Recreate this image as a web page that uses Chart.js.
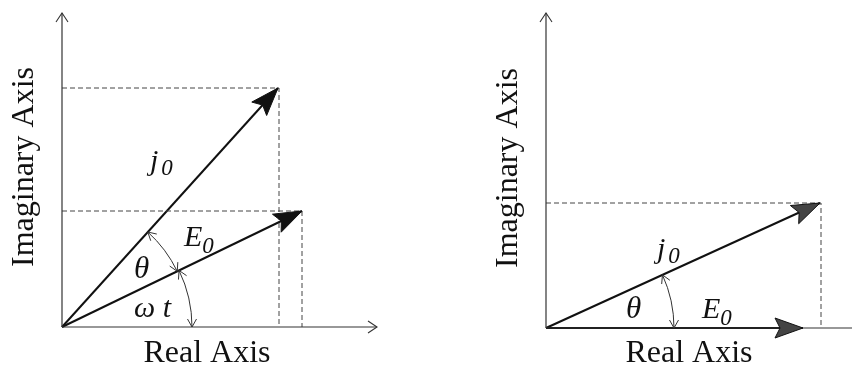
<!DOCTYPE html>
<html><head><meta charset="utf-8">
<script src="https://cdn.jsdelivr.net/npm/chart.js@4.4.0/dist/chart.umd.min.js"></script>
<style>
html,body{margin:0;padding:0;background:#fff;}
#wrap{position:relative;width:852px;height:371px;overflow:hidden;}
.panel{position:absolute;top:0;width:426px;height:371px;}
</style></head><body>
<div id="wrap">
<div class="panel" style="left:0"><canvas id="c1" width="426" height="371"></canvas></div>
<div class="panel" style="left:426px"><canvas id="c2" width="426" height="371"></canvas></div>
</div>
<script>
// ---- data (phasor components, arbitrary units) ----
const axisTitles = ['Real Axis', 'Imaginary Axis'];
// left panel
const leftJ0 = [2.16, 2.39];
const leftE0 = [2.40, 1.16];
const leftAxisEnd = [3.15, 3.14];        // real-axis end, imaginary-axis end
// right panel
const rightJ0 = [2.74, 1.25];
const rightE0 = [2.57, 0.00];
const rightAxisEnd = [3.06, 3.15];

// ---- view windows (layout) ----
const leftView  = {xmin:-0.62, xmax:3.64, ymin:-0.44, ymax:3.27};
const rightView = {xmin:-1.20, xmax:3.06, ymin:-0.43, ymax:3.28};

Chart.defaults.animation = false;

function seg(a, b){ return [{x:a[0], y:a[1]}, {x:b[0], y:b[1]}]; }
function poly(pts){ return pts.map(p => ({x:p[0], y:p[1]})); }

function lineDs(data, color, width, dash){
  return {data, showLine:true, borderColor:color, borderWidth:width,
          borderDash:dash||[], pointRadius:0, fill:false, tension:0};
}

function makeChart(id, view, ds, deco){
  const plugin = {
    id:'deco'+id,
    afterDatasetsDraw(chart){
      const ctx = chart.ctx, xs = chart.scales.x, ys = chart.scales.y;
      const P = (x,y) => [xs.getPixelForValue(x), ys.getPixelForValue(y)];
      const unit = xs.getPixelForValue(1) - xs.getPixelForValue(0);
      ctx.save();
      // axis arrowheads (open chevrons)
      (deco.axisArrows||[]).forEach(a => {
        const [ox,oy] = P(a.from[0], a.from[1]);
        const [tx,ty] = P(a.to[0], a.to[1]);
        chevron(ctx, ox, oy, tx, ty, 9, 6, '#333', 1.1);
      });
      // vector arrowheads (filled)
      (deco.vectors||[]).forEach(v => {
        const [ox,oy] = P(0,0);
        const [tx,ty] = P(v.tip[0], v.tip[1]);
        let dx = tx-ox, dy = ty-oy; const L = Math.hypot(dx,dy); dx/=L; dy/=L;
        const nx = -dy, ny = dx, len = 28, w = 10;
        ctx.beginPath();
        ctx.moveTo(tx, ty);
        ctx.lineTo(tx - len*dx + w*nx, ty - len*dy + w*ny);
        ctx.lineTo(tx - 0.82*len*dx, ty - 0.82*len*dy);
        ctx.lineTo(tx - len*dx - w*nx, ty - len*dy - w*ny);
        ctx.closePath();
        ctx.fillStyle = v.fill; ctx.fill();
        ctx.strokeStyle = '#111'; ctx.lineWidth = 1; ctx.stroke();
      });
      // angle arcs with arrows at both ends
      (deco.arcs||[]).forEach(a => {
        const [ox,oy] = P(0,0);
        const r = a.r*unit;
        ctx.beginPath();
        ctx.arc(ox, oy, r, -a.a2, -a.a1);
        ctx.strokeStyle = '#333'; ctx.lineWidth = 1; ctx.stroke();
        [[a.a2, 1],[a.a1, -1]].forEach(([ang, s]) => {
          const px = ox + r*Math.cos(ang), py = oy - r*Math.sin(ang);
          const tx = -Math.sin(ang)*s, ty = -Math.cos(ang)*s;   // tangent outward
          const rx = Math.cos(ang), ry = -Math.sin(ang);
          const L = 8, W = 4.5;
          ctx.beginPath();
          ctx.moveTo(px - L*tx + W*rx, py - L*ty + W*ry);
          ctx.lineTo(px, py);
          ctx.lineTo(px - L*tx - W*rx, py - L*ty - W*ry);
          ctx.stroke();
        });
      });
      // labels
      ctx.fillStyle = '#111';
      (deco.labels||[]).forEach(l => {
        const [x,y] = P(l.at[0], l.at[1]);
        ctx.font = (l.italic?'italic ':'') + l.size + 'px "Liberation Serif"';
        ctx.textBaseline = 'alphabetic';
        if (l.rotate){
          ctx.save(); ctx.translate(x,y); ctx.rotate(-Math.PI/2);
          ctx.textAlign = 'center'; ctx.fillText(l.text, 0, 0); ctx.restore();
        } else if (l.center){
          ctx.textAlign = 'center'; ctx.fillText(l.text, x, y);
        } else {
          ctx.textAlign = 'left'; ctx.fillText(l.text, x, y);
          let w = ctx.measureText(l.text).width + (l.gap||0);
          if (l.sub){
            ctx.font = 'italic ' + l.subSize + 'px "Liberation Serif"';
            ctx.fillText(l.sub, x + w, y + l.subDy);
          }
        }
      });
      ctx.restore();
    }
  };
  return new Chart(document.getElementById(id), {
    type:'scatter',
    data:{datasets:ds},
    options:{
      responsive:false, devicePixelRatio:1,
      layout:{padding:0},
      plugins:{legend:{display:false}, tooltip:{enabled:false}},
      scales:{
        x:{type:'linear', display:false, min:view.xmin, max:view.xmax},
        y:{type:'linear', display:false, min:view.ymin, max:view.ymax}
      },
      events:[]
    },
    plugins:[plugin]
  });
}

function chevron(ctx, ox, oy, tx, ty, len, w, color, lw){
  let dx = tx-ox, dy = ty-oy; const L = Math.hypot(dx,dy); dx/=L; dy/=L;
  const nx = -dy, ny = dx;
  ctx.beginPath();
  ctx.moveTo(tx - len*dx + w*nx, ty - len*dy + w*ny);
  ctx.lineTo(tx, ty);
  ctx.lineTo(tx - len*dx - w*nx, ty - len*dy - w*ny);
  ctx.strokeStyle = color; ctx.lineWidth = lw; ctx.stroke();
}

const ang = v => Math.atan2(v[1], v[0]);
const dashC = '#444', dash = [5,3];

// ---- left panel ----
makeChart('c1', leftView, [
  lineDs(seg([0,0],[leftAxisEnd[0],0]), '#333', 1.2),
  lineDs(seg([0,0],[0,leftAxisEnd[1]]), '#333', 1.2),
  lineDs(poly([[0,leftJ0[1]],[leftJ0[0]+0.01,leftJ0[1]],[leftJ0[0]+0.01,0]]), dashC, 1, dash),
  lineDs(poly([[0,leftE0[1]],[leftE0[0],leftE0[1]],[leftE0[0],0]]), dashC, 1, dash),
  lineDs(seg([0,0],leftJ0), '#111', 2),
  lineDs(seg([0,0],leftE0), '#111', 2)
], {
  axisArrows:[{from:[0,0], to:[leftAxisEnd[0],0]}, {from:[0,0], to:[0,leftAxisEnd[1]]}],
  vectors:[{tip:leftJ0, fill:'#111'}, {tip:leftE0, fill:'#111'}],
  arcs:[{r:1.28, a1:ang(leftE0), a2:ang(leftJ0)}, {r:1.30, a1:0, a2:ang(leftE0)}],
  labels:[
    {text:axisTitles[1], at:[-0.29,1.60], size:32, rotate:true},
    {text:axisTitles[0], at:[1.45,-0.35], size:32, center:true},
    {text:'j', at:[0.88,1.57], size:30, italic:true, sub:'0', subSize:23, subDy:5, gap:3},
    {text:'E', at:[1.22,0.81], size:30, italic:true, sub:'0', subSize:23, subDy:7, gap:0},
    {text:'θ', at:[0.72,0.49], size:31, italic:true},
    {text:'ω t', at:[0.72,0.10], size:30, italic:true}
  ]
});

// ---- right panel ----
makeChart('c2', rightView, [
  lineDs(seg([0,0],[rightAxisEnd[0],0]), '#333', 1.2),
  lineDs(seg([0,0],[0,rightAxisEnd[1]]), '#333', 1.2),
  lineDs(poly([[0,rightJ0[1]],[rightJ0[0]+0.01,rightJ0[1]],[rightJ0[0]+0.01,0]]), dashC, 1, dash),
  lineDs(seg([0,0],rightJ0), '#111', 2),
  lineDs(seg([0,0],rightE0), '#111', 2.2)
], {
  axisArrows:[{from:[0,0], to:[0,rightAxisEnd[1]]}],
  vectors:[{tip:rightJ0, fill:'#444'}, {tip:rightE0, fill:'#444'}],
  arcs:[{r:1.28, a1:0, a2:ang(rightJ0)}],
  labels:[
    {text:axisTitles[1], at:[-0.29,1.60], size:32, rotate:true},
    {text:axisTitles[0], at:[1.43,-0.34], size:32, center:true},
    {text:'j', at:[1.11,0.70], size:30, italic:true, sub:'0', subSize:23, subDy:5, gap:3},
    {text:'θ', at:[0.80,0.10], size:31, italic:true},
    {text:'E', at:[1.56,0.10], size:30, italic:true, sub:'0', subSize:23, subDy:7, gap:0}
  ]
});
</script>
</body></html>
